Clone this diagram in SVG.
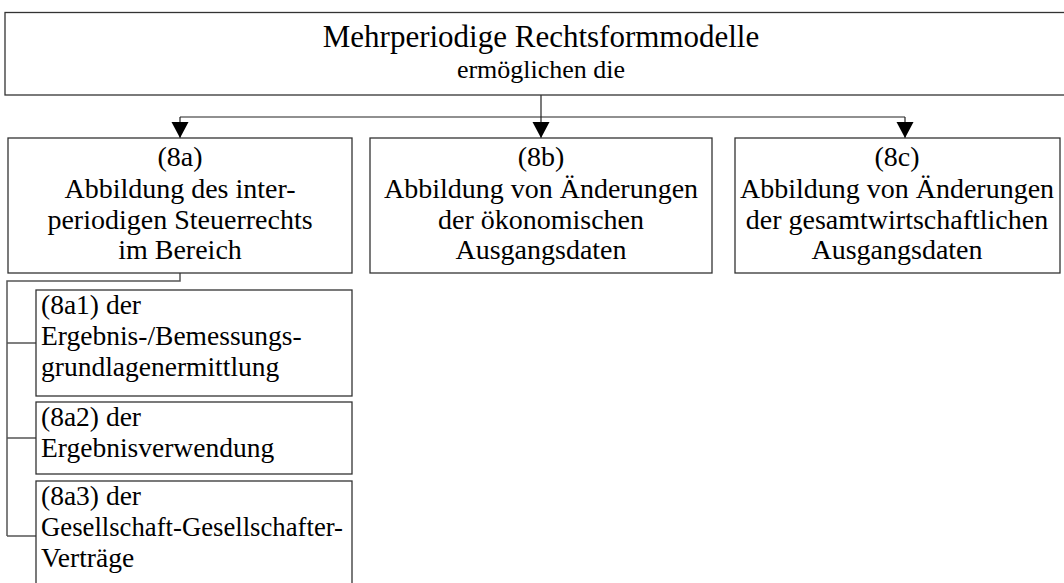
<svg xmlns="http://www.w3.org/2000/svg" width="1064" height="583" viewBox="0 0 1064 583">
<style>
.box{fill:#fff;stroke:#333;stroke-width:1.3}
.con{fill:none;stroke:#222;stroke-width:1.2}
.con2{fill:none;stroke:#555;stroke-width:1.5}
text{font-family:"Liberation Serif","Times New Roman",Times,serif}
</style>
<defs>
<marker id="arr" markerUnits="userSpaceOnUse" markerWidth="17" markerHeight="18" refX="16" refY="9" orient="auto" viewBox="0 0 17 18">
<path d="M0,0.5 L16,9 L0,17.5 Z" fill="#000"/>
</marker>
</defs>
<rect width="1064" height="583" fill="#fff"/>
<g id="connectors">
<path class="con" d="M541,95 V117"/>
<path class="con" d="M180,117 H905"/>
<path class="con" d="M180,117 V138" marker-end="url(#arr)"/>
<path class="con" d="M541,117 V138" marker-end="url(#arr)"/>
<path class="con" d="M905,117 V138" marker-end="url(#arr)"/>
<path class="con2" d="M180,273 V281 H7 V536"/>
<path class="con2" d="M7,343 H36"/>
<path class="con2" d="M7,438 H36"/>
<path class="con2" d="M7,536 H36"/>
</g>
<g font-size="28" fill="#000">
<g id="top">
<rect class="box" x="5" y="12.5" width="1062" height="82.5"/>
<text x="541" y="47" font-size="31" text-anchor="middle">Mehrperiodige Rechtsformmodelle</text>
<text x="541" y="78" font-size="26" text-anchor="middle">ermöglichen die</text>
</g>
<g id="n8a" text-anchor="middle">
<rect class="box" x="8" y="138" width="344" height="135"/>
<text x="180" y="166">(8a)</text>
<text x="180" y="198">Abbildung des inter-</text>
<text x="180" y="229">periodigen Steuerrechts</text>
<text x="180" y="259">im Bereich</text>
</g>
<g id="n8b" text-anchor="middle">
<rect class="box" x="370" y="138" width="342" height="135"/>
<text x="541" y="166">(8b)</text>
<text x="541" y="198">Abbildung von Änderungen</text>
<text x="541" y="229">der ökonomischen</text>
<text x="541" y="259">Ausgangsdaten</text>
</g>
<g id="n8c" text-anchor="middle">
<rect class="box" x="735" y="138" width="325" height="135"/>
<text x="897" y="166">(8c)</text>
<text x="897" y="198">Abbildung von Änderungen</text>
<text x="897" y="229">der gesamtwirtschaftlichen</text>
<text x="897" y="259">Ausgangsdaten</text>
</g>
<g font-size="27.5">
<g id="n8a1">
<rect class="box" x="36" y="290" width="316" height="106"/>
<text x="41" y="314">(8a1) der</text>
<text x="41" y="345">Ergebnis-/Bemessungs-</text>
<text x="41" y="376">grundlagenermittlung</text>
</g>
<g id="n8a2">
<rect class="box" x="36" y="402" width="316" height="72"/>
<text x="41" y="426">(8a2) der</text>
<text x="41" y="457">Ergebnisverwendung</text>
</g>
<g id="n8a3">
<rect class="box" x="36" y="481" width="316" height="112"/>
<text x="41" y="505">(8a3) der</text>
<text x="41" y="536" textLength="302" lengthAdjust="spacingAndGlyphs">Gesellschaft-Gesellschafter-</text>
<text x="41" y="567">Verträge</text>
</g>
</g>
</g>
</svg>
